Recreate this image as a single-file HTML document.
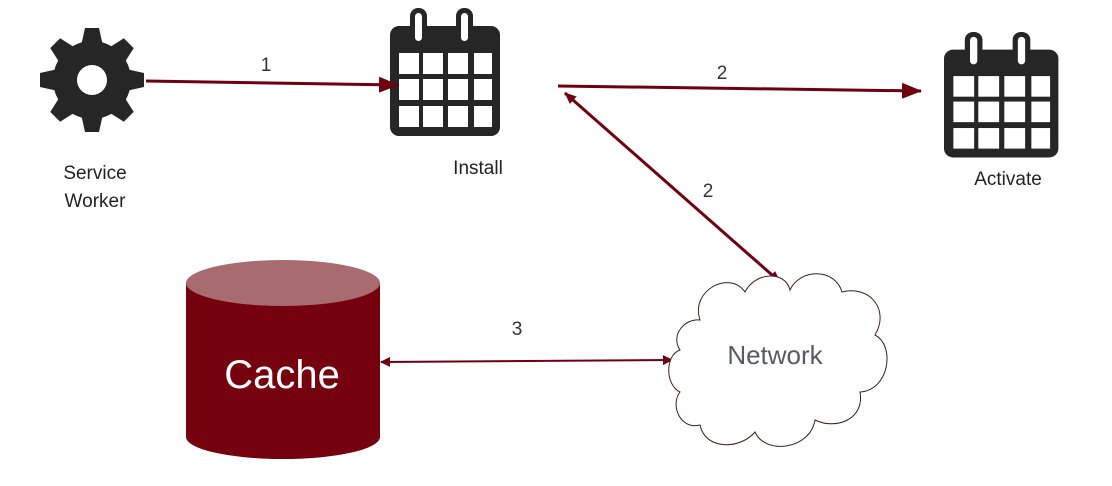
<!DOCTYPE html>
<html><head><style>
body{margin:0;background:#fff;width:1112px;height:486px;overflow:hidden}
svg{display:block}
text{font-family:"Liberation Sans",sans-serif}
</style></head><body>
<svg width="1112" height="486" viewBox="0 0 1112 486">
<defs>
<marker id="ae" markerWidth="10" markerHeight="10" refX="9" refY="5" orient="auto" markerUnits="userSpaceOnUse"><path d="M0,0 L10,5 L0,10 z" fill="#6e0010"/></marker>
<marker id="as" markerWidth="10" markerHeight="10" refX="1" refY="5" orient="auto" markerUnits="userSpaceOnUse"><path d="M10,0 L0,5 L10,10 z" fill="#6e0010"/></marker>
<marker id="big" markerWidth="20" markerHeight="16" refX="19" refY="8" orient="auto" markerUnits="userSpaceOnUse"><path d="M0,0 L20,8 L0,16 z" fill="#6e0010"/></marker>
<marker id="sm" markerWidth="12" markerHeight="10" refX="11" refY="5" orient="auto" markerUnits="userSpaceOnUse"><path d="M0,0 L12,5 L0,10 z" fill="#6e0010"/></marker>
<marker id="sms" markerWidth="12" markerHeight="10" refX="1" refY="5" orient="auto" markerUnits="userSpaceOnUse"><path d="M12,0 L0,5 L12,10 z" fill="#6e0010"/></marker>
<g id="cal">
<rect x="0" y="18" width="110" height="110" rx="9" fill="#262626"/>
<rect x="20" y="0" width="17" height="38" rx="8" fill="#262626"/>
<rect x="25" y="5" width="7" height="28" rx="3.5" fill="#fff"/>
<rect x="66" y="0" width="17" height="38" rx="8" fill="#262626"/>
<rect x="71" y="5" width="7" height="28" rx="3.5" fill="#fff"/>
<g fill="#fff">
<rect x="9" y="45" width="20" height="21"/><rect x="33" y="45" width="20" height="21"/><rect x="58" y="45" width="20" height="21"/><rect x="84" y="45" width="18" height="21"/>
<rect x="9" y="71" width="20" height="21"/><rect x="33" y="71" width="20" height="21"/><rect x="58" y="71" width="20" height="21"/><rect x="84" y="71" width="18" height="21"/>
<rect x="9" y="98" width="20" height="21"/><rect x="33" y="98" width="20" height="21"/><rect x="58" y="98" width="20" height="21"/><rect x="84" y="98" width="18" height="21"/>
</g>
</g>
</defs>
<!-- gear -->
<g transform="translate(92,80)" fill="#262626">
<circle r="39"/>
<g id="t"><path d="M-11,-34 L-7,-52 L7,-52 L11,-34 Z"/></g>
<use href="#t" transform="rotate(45)"/><use href="#t" transform="rotate(90)"/><use href="#t" transform="rotate(135)"/>
<use href="#t" transform="rotate(180)"/><use href="#t" transform="rotate(225)"/><use href="#t" transform="rotate(270)"/><use href="#t" transform="rotate(315)"/>
<circle r="15" fill="#fff"/>
</g>
<use href="#cal" transform="translate(390,8)"/>
<use href="#cal" transform="translate(944,32) scale(1.04,0.98)"/>
<!-- arrows -->
<line x1="146" y1="81" x2="398" y2="85" stroke="#6e0010" stroke-width="3" marker-end="url(#big)"/>
<line x1="558" y1="86" x2="921" y2="91" stroke="#6e0010" stroke-width="3" marker-end="url(#big)"/>
<line x1="565" y1="93" x2="780" y2="282" stroke="#6e0010" stroke-width="3" marker-start="url(#sms)" marker-end="url(#sm)"/>
<line x1="381" y1="362" x2="672" y2="360" stroke="#6e0010" stroke-width="2" marker-start="url(#as)" marker-end="url(#ae)" />
<!-- cylinder -->
<path d="M186,283 L186,437 A97,22 0 0 0 380,437 L380,283 Z" fill="#75000e"/>
<ellipse cx="283" cy="283" rx="97" ry="23" fill="#a86b6f"/>
<text x="282" y="388" font-size="40" fill="#fff" text-anchor="middle">Cache</text>
<!-- cloud -->
<g fill="#fff" stroke="#3a2020" stroke-width="1">
<path d="M700,320 C690,290 730,270 745,292 C755,272 785,270 790,290 C800,268 835,268 842,292 C870,285 890,310 875,335 C895,345 890,390 860,392 C865,420 835,430 815,420 C810,450 765,455 755,432 C740,450 705,450 700,425 C680,430 670,405 680,392 C665,385 665,355 680,350 C670,335 685,318 700,320 Z"/>
</g>
<text x="775" y="364" font-size="26" fill="#555a66" text-anchor="middle">Network</text>
<!-- labels -->
<g font-size="19" fill="#222" text-anchor="middle">
<text x="95" y="179">Service</text>
<text x="95" y="207">Worker</text>
<text x="478" y="174">Install</text>
<text x="1008" y="185">Activate</text>
</g>
<g font-size="19" fill="#333" text-anchor="middle">
<text x="266" y="71">1</text>
<text x="722" y="79">2</text>
<text x="708" y="197">2</text>
<text x="517" y="335">3</text>
</g>
</svg>
</body></html>
